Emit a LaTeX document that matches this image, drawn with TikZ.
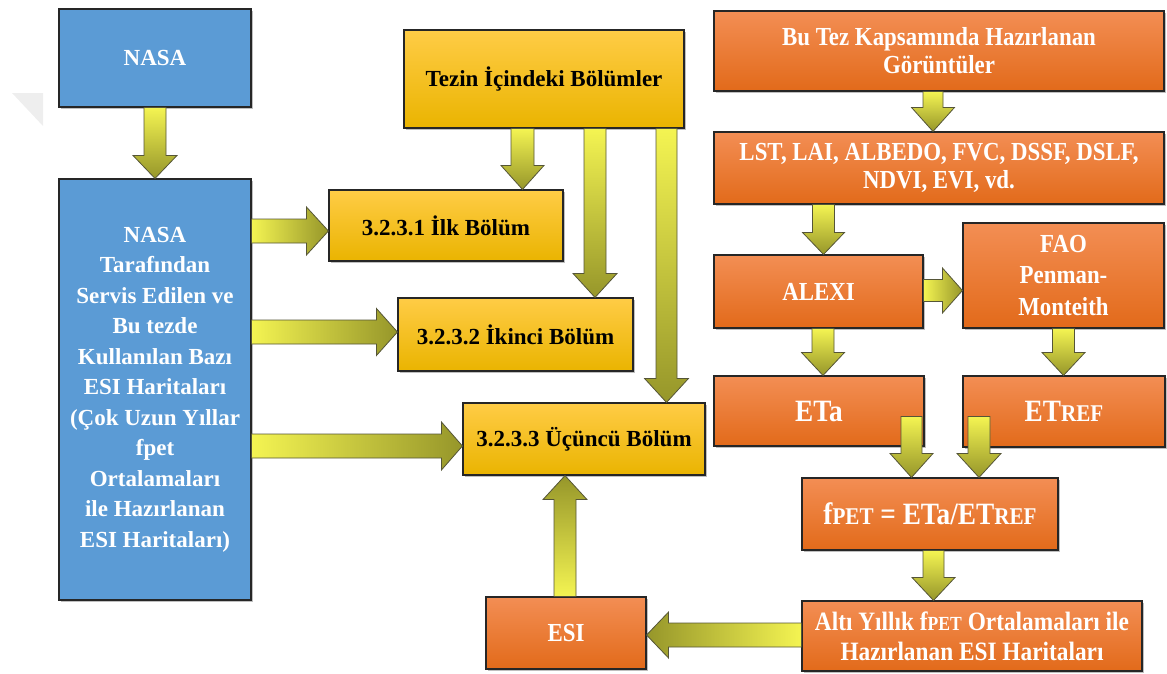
\documentclass[tikz,border=0pt]{standalone}
\usepackage{fontspec}
\setmainfont{Liberation Serif}
\newfontfamily\cond{Liberation Serif}[FakeStretch=0.88]
\usetikzlibrary{calc,shadows}
\definecolor{myblue}{RGB}{91,155,213}
\definecolor{yelT}{RGB}{255,204,70}
\definecolor{yelM}{RGB}{255,192,0}
\definecolor{yelB}{RGB}{234,180,0}
\definecolor{orT}{RGB}{243,142,84}
\definecolor{orM}{RGB}{241,122,42}
\definecolor{orB}{RGB}{226,106,26}
\definecolor{ayel}{RGB}{244,244,82}
\definecolor{aol}{RGB}{150,150,42}
\definecolor{aline}{RGB}{85,85,55}
\definecolor{wmark}{RGB}{238,238,238}
\tikzset{
  box/.style={draw=black!85, line width=1.1pt, inner sep=0pt, align=center,
    drop shadow={shadow xshift=1.6pt, shadow yshift=-1.6pt, opacity=0.25, fill=black}},
  bluebox/.style={box, fill=myblue, text=white, font=\bfseries\fontsize{23}{30.5}\selectfont},
  yelbox/.style={box, top color=yelT, middle color=yelM, bottom color=yelB, text=black,
    font=\bfseries\fontsize{23}{28}\selectfont},
  orbox/.style={box, top color=orT, middle color=orM, bottom color=orB, text=white,
    font=\cond\bfseries\fontsize{26}{28}\selectfont},
  arr/.style={draw=aline, line width=0.8pt, line join=miter},
  dn/.style={top color=ayel, bottom color=aol},
  up/.style={top color=aol, bottom color=ayel},
  rt/.style={left color=ayel, right color=aol},
  lf/.style={left color=aol, right color=ayel},
}
% vertical block arrow: #1 shading, #2 start, #3 end, #4 shaft w, #5 head w, #6 head length
\newcommand\varrow[6]{%
  \shadedraw[arr,#1] let \p1=#2, \p2=#3, \n1={sign(\y2-\y1)} in
    (\x1-#4/2,\y1) -- (\x1-#4/2,\y2-\n1*#6) -- (\x1-#5/2,\y2-\n1*#6) -- (\x1,\y2)
    -- (\x1+#5/2,\y2-\n1*#6) -- (\x1+#4/2,\y2-\n1*#6) -- (\x1+#4/2,\y1) -- cycle;}
% horizontal block arrow
\newcommand\harrow[6]{%
  \shadedraw[arr,#1] let \p1=#2, \p2=#3, \n1={sign(\x2-\x1)} in
    (\x1,\y1-#4/2) -- (\x2-\n1*#6,\y1-#4/2) -- (\x2-\n1*#6,\y1-#5/2) -- (\x2,\y1)
    -- (\x2-\n1*#6,\y1+#5/2) -- (\x2-\n1*#6,\y1+#4/2) -- (\x1,\y1+#4/2) -- cycle;}
\newcommand\smc[1]{{\fontsize{24}{24}\selectfont #1}}
\newcommand\smcb[1]{{\fontsize{20}{20}\selectfont #1}}
\begin{document}
\begin{tikzpicture}[x=1pt,y=-1pt]
\useasboundingbox (0,0) rectangle (1167,673);
% faint watermark
\fill[wmark] (12,93) -- (43,93) -- (43,126) -- cycle;

% left column
\node[bluebox, minimum width=192pt, minimum height=98pt] (nasa) at (155,58) {NASA};
\node[bluebox, minimum width=192pt, minimum height=421pt] (nasab) at (155,389.5)
  {NASA\\Tarafından\\Servis Edilen ve\\Bu tezde\\Kullanılan Bazı\\ESI Haritaları\\(Çok Uzun Yıllar\\fpet\\Ortalamaları\\ile Hazırlanan\\ESI Haritaları)};

% middle column
\node[yelbox, minimum width=280pt, minimum height=98pt] (tez) at (544,79) {Tezin İçindeki Bölümler};
\node[yelbox, minimum width=234pt, minimum height=71pt] (s1) at (446,225.5) {3.2.3.1 İlk Bölüm};
\node[yelbox, minimum width=235pt, minimum height=73pt] (s2) at (515.5,334.5) {3.2.3.2 İkinci Bölüm};
\node[yelbox, minimum width=242pt, minimum height=72pt] (s3) at (584,439) {3.2.3.3 Üçüncü Bölüm};

% right column
\node[orbox, minimum width=450pt, minimum height=80pt] (butez) at (939,51) {Bu Tez Kapsamında Hazırlanan\\Görüntüler};
\node[orbox, minimum width=450pt, minimum height=72pt] (lst) at (939,168) {LST, LAI, ALBEDO, FVC, DSSF, DSLF,\\NDVI, EVI, vd.};
\node[orbox, minimum width=209pt, minimum height=73pt] (alexi) at (818.5,291.5) {ALEXI};
\node[orbox, minimum width=201pt, minimum height=105pt, font=\cond\bfseries\fontsize{26}{31.5}\selectfont] (fao) at (1063.5,275.5) {FAO\\Penman-\\Monteith};
\node[orbox, minimum width=210pt, minimum height=70pt, font=\cond\bfseries\fontsize{31}{31}\selectfont] (eta) at (819,411) {ETa};
\node[orbox, minimum width=202pt, minimum height=71pt, font=\cond\bfseries\fontsize{31}{31}\selectfont] (etref) at (1064,411.5) {ET{\fontsize{24}{24}\selectfont REF}};
\node[orbox, minimum width=256pt, minimum height=72pt, font=\cond\bfseries\fontsize{31}{31}\selectfont] (fpet) at (930,514) {f\smc{PET} = ETa/ET\smc{REF}};
\node[orbox, minimum width=340pt, minimum height=70pt, font=\cond\bfseries\fontsize{26.5}{30}\selectfont] (alti) at (972,636) {Altı Yıllık f\smcb{PET} Ortalamaları ile\\Hazırlanan ESI Haritaları};
\node[orbox, minimum width=160pt, minimum height=72pt] (esi) at (566,633) {ESI};

% arrows, left
\varrow{dn}{(nasa.south)}{(nasab.north)}{22pt}{44pt}{23pt}
\harrow{rt}{([yshift=158.5pt]nasab.east)}{([yshift=158.5pt]nasab.east -| s1.west)}{24pt}{48pt}{22pt}
\harrow{rt}{([yshift=57.5pt]nasab.east)}{([yshift=57.5pt]nasab.east -| s2.west)}{24pt}{47pt}{21pt}
\harrow{rt}{([yshift=-56.5pt]nasab.east)}{([yshift=-56.5pt]nasab.east -| s3.west)}{24pt}{48pt}{21pt}
% arrows from tez
\varrow{dn}{([xshift=-21.5pt]tez.south)}{([xshift=-21.5pt]tez.south |- s1.north)}{23pt}{43pt}{24pt}
\varrow{dn}{([xshift=51pt]tez.south)}{([xshift=51pt]tez.south |- s2.north)}{22pt}{44pt}{24pt}
\varrow{dn}{([xshift=122.5pt]tez.south)}{([xshift=122.5pt]tez.south |- s3.north)}{21pt}{44pt}{24pt}
% esi up to s3
\varrow{up}{([xshift=-1pt]esi.north)}{([xshift=-1pt]esi.north |- s3.south)}{22pt}{44pt}{24pt}
% alti left to esi
\harrow{lf}{([yshift=1pt]alti.west)}{([yshift=1pt]alti.west -| esi.east)}{24pt}{46pt}{22pt}
% right column
\varrow{dn}{([xshift=-6pt]butez.south)}{([xshift=-6pt]butez.south |- lst.north)}{20pt}{43pt}{24pt}
\varrow{dn}{([xshift=-115.5pt]lst.south)}{([xshift=-115.5pt]lst.south |- alexi.north)}{22pt}{42pt}{22pt}
\harrow{rt}{([yshift=1pt]alexi.east)}{([yshift=1pt]alexi.east -| fao.west)}{22pt}{45pt}{20pt}
\varrow{dn}{([xshift=4.5pt]alexi.south)}{([xshift=4.5pt]alexi.south |- eta.north)}{22pt}{43pt}{23pt}
\varrow{dn}{(fao.south)}{(fao.south |- etref.north)}{22pt}{43pt}{23pt}
\varrow{dn}{([xshift=92.5pt,yshift=30pt]eta.south)}{([xshift=92.5pt]eta.south |- fpet.north)}{21pt}{43pt}{24pt}
\varrow{dn}{([xshift=-85pt,yshift=31pt]etref.south)}{([xshift=-85pt]etref.south |- fpet.north)}{22pt}{44pt}{24pt}
\varrow{dn}{([xshift=3.5pt]fpet.south)}{([xshift=3.5pt]fpet.south |- alti.north)}{21pt}{43pt}{23pt}
\end{tikzpicture}
\end{document}
